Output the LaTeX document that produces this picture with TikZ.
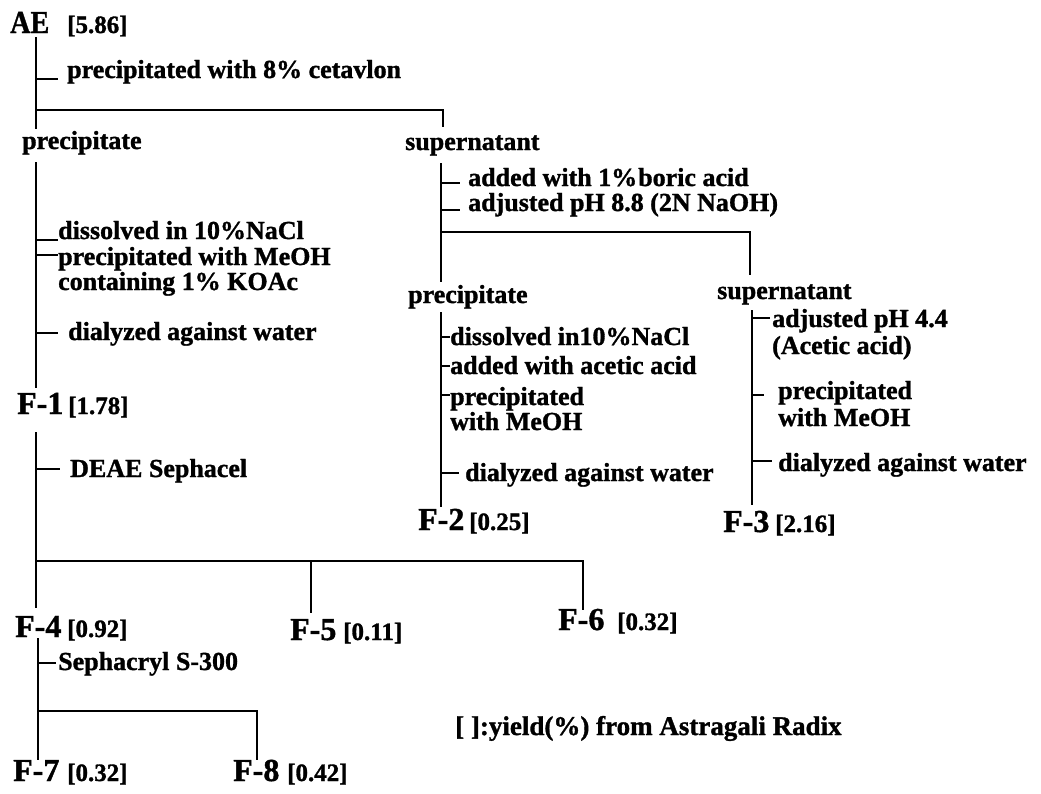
\documentclass[tikz,border=0pt]{standalone}
\usepackage{fontspec}
\setmainfont{Liberation Serif}[BoldFeatures={FakeBold=1.2}]
\begin{document}
\begin{tikzpicture}[x=1pt,y=-1pt,
  ln/.style={line width=2.7pt},
  txt/.style={anchor=base west, inner sep=0pt, font=\bfseries\fontsize{26}{26}\selectfont},
  big/.style={anchor=base west, inner sep=0pt, font=\bfseries\fontsize{32}{32}\selectfont},
  yld/.style={anchor=base west, inner sep=0pt, font=\bfseries\fontsize{25}{25}\selectfont},
  notestyle/.style={anchor=base west, inner sep=0pt, font=\bfseries\fontsize{27}{27}\selectfont}]
\useasboundingbox (0,0) rectangle (1041,793);
% ---------- text nodes ----------
\node[big] (ae) at (10,33) {\scalebox{0.88}[1]{AE}};
\node[yld] (aey) at (67,33) {[5.86]};
\node[txt] (c1) at (67,78) {precipitated with 8\% cetavlon};
\node[txt] (p1) at (22,149) {precipitate};
\node[txt] (s1) at (405,150) {supernatant};
\node[txt] (d1) at (58,239) {dissolved in 10\%NaCl};
\node[txt] (d2) at (58,265) {precipitated with MeOH};
\node[txt] (d3) at (58,290) {containing 1\% KOAc};
\node[txt] (d4) at (68,340) {dialyzed against water};
\node[big] (f1) at (17,414) {F-1};
\node[yld] (f1y) at (68,414) {[1.78]};
\node[txt] (de) at (70,477) {DEAE Sephacel};
\node[big] (f4) at (15,637) {F-4};
\node[yld] (f4y) at (67,637) {[0.92]};
\node[big] (f5) at (290,640) {F-5};
\node[yld] (f5y) at (343,640) {[0.11]};
\node[big] (f6) at (558,630) {F-6};
\node[yld] (f6y) at (617,630) {[0.32]};
\node[txt] (sp) at (58,670) {Sephacryl S-300};
\node[big] (f7) at (13,781) {F-7};
\node[yld] (f7y) at (67,781) {[0.32]};
\node[big] (f8) at (233,781) {F-8};
\node[yld] (f8y) at (287,781) {[0.42]};
\node[notestyle] (note) at (455,735) {[ ]:yield(\%) from Astragali Radix};
% middle column
\node[txt] (b1) at (468,186) {added with 1\%\kern1pt boric acid};
\node[txt] (b2) at (468,211) {adjusted pH 8.8 (2N NaOH)};
\node[txt] (p2) at (408,303) {precipitate};
\node[txt] (s2) at (717,299) {supernatant};
\node[txt] (m1) at (450,345) {dissolved in10\%NaCl};
\node[txt] (m2) at (450,374) {added with acetic acid};
\node[txt] (m3) at (450,405) {precipitated};
\node[txt] (m4) at (450,430) {with MeOH};
\node[txt] (m5) at (465,481) {dialyzed against water};
\node[big] (f2) at (418,530) {F-2};
\node[yld] (f2y) at (469,530) {[0.25]};
% right column
\node[txt] (r1) at (772,327) {adjusted pH 4.4};
\node[txt] (r2) at (772,354) {(Acetic acid)};
\node[txt] (r3) at (778,399) {precipitated};
\node[txt] (r4) at (778,426) {with MeOH};
\node[txt] (r5) at (778,471) {dialyzed against water};
\node[big] (f3) at (723,532) {F-3};
\node[yld] (f3y) at (775,532) {[2.16]};
% ---------- connectors ----------
% AE -> precipitate / supernatant
\coordinate (a0) at (36,37);
\coordinate (a1) at (36,129);
\coordinate (a2) at (443,110);
\coordinate (a3) at (443,127);
\draw[ln] (a0) -- (a1);
\draw[ln] (36,79) -- +(22,0);
\draw[ln] (36,110) -- (a2) -- (a3);
% precipitate -> F-1
\coordinate (b0) at (36,162);
\coordinate (b9) at (36,388);
\draw[ln] (b0) -- (b9);
\draw[ln] (36,240) -- +(22,0);
\draw[ln] (36,255) -- +(22,0);
\draw[ln] (36,333) -- +(22,0);
% F-1 -> F-4, F-5, F-6
\coordinate (c0) at (36,432);
\coordinate (c9) at (36,608);
\coordinate (c5) at (311,613);
\coordinate (c6) at (583,610);
\draw[ln] (c0) -- (c9);
\draw[ln] (36,469) -- +(24,0);
\draw[ln] (36,561) -- (583,561) -- (c6);
\draw[ln] (311,561) -- (c5);
% F-4 -> F-7, F-8
\coordinate (e0) at (38,638);
\coordinate (e9) at (38,760);
\coordinate (e8) at (257,760);
\draw[ln] (e0) -- (e9);
\draw[ln] (38,663) -- +(18,0);
\draw[ln] (38,711) -- (257,711) -- (e8);
% supernatant -> precipitate / supernatant
\coordinate (g0) at (441,163);
\coordinate (g9) at (441,282);
\coordinate (g8) at (750,275);
\draw[ln] (g0) -- (g9);
\draw[ln] (441,183) -- +(19,0);
\draw[ln] (441,210) -- +(19,0);
\draw[ln] (441,232) -- (750,232) -- (g8);
% precipitate -> F-2
\coordinate (h0) at (441,312);
\coordinate (h9) at (441,507);
\draw[ln] (h0) -- (h9);
\draw[ln] (441,337) -- +(9,0);
\draw[ln] (441,366) -- +(9,0);
\draw[ln] (441,395) -- +(9,0);
\draw[ln] (441,473) -- +(18,0);
% supernatant -> F-3
\coordinate (k0) at (752,310);
\coordinate (k9) at (752,505);
\draw[ln] (k0) -- (k9);
\draw[ln] (752,318) -- +(18,0);
\draw[ln] (752,395) -- +(12,0);
\draw[ln] (752,461) -- +(20,0);
\end{tikzpicture}
\end{document}
